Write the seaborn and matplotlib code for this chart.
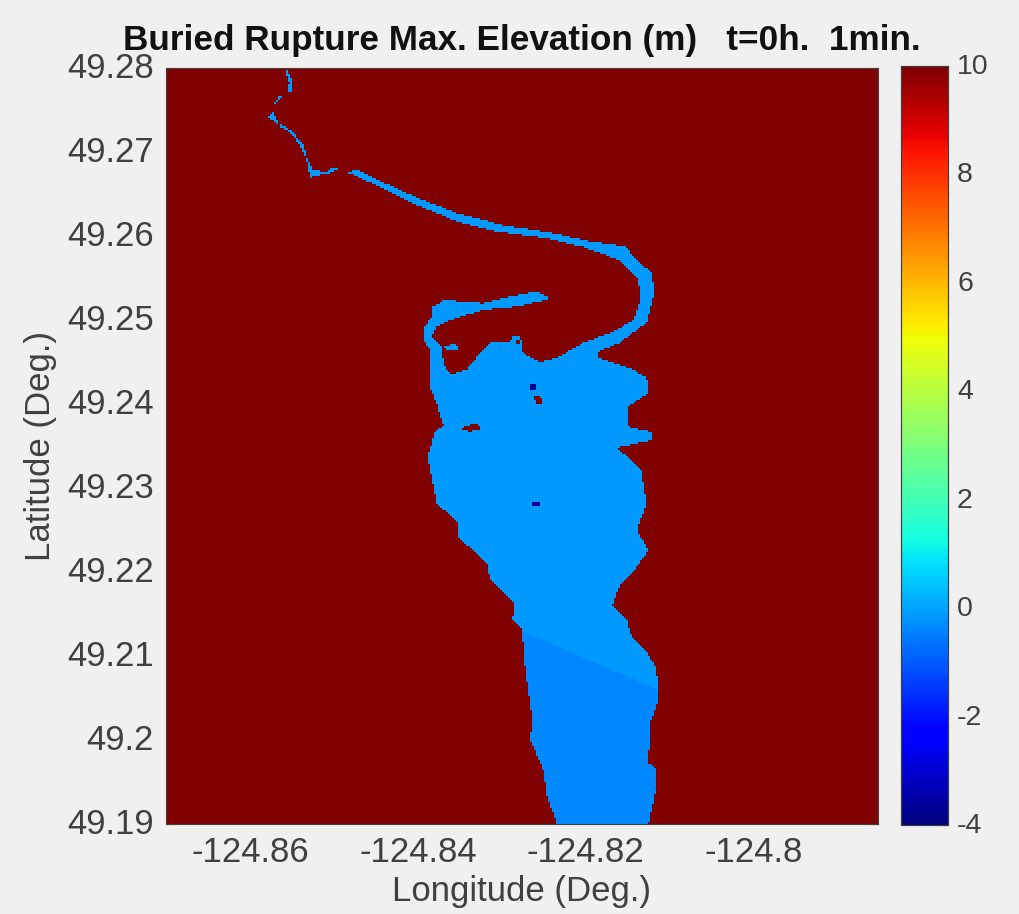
import numpy as np
import matplotlib
matplotlib.use("Agg")
import matplotlib.pyplot as plt
from matplotlib.path import Path
from matplotlib.transforms import ScaledTranslation
import seaborn as sns

# map window (deg)
lon_min, lon_max = -124.8701, -124.7851
lat_min, lat_max = 49.19, 49.28
n_lon, n_lat = 356, 378

# elevation levels
land_level = 10.0
north_level = -0.15
south_level = -0.35
deep_level = -3.8

# inlet shoreline, main basin plus long arm
inlet_lon = [-124.8242, -124.8258, -124.8290, -124.8322, -124.8353, -124.8366, -124.8383, -124.8384, -124.8392,
             -124.8394, -124.8386, -124.8387, -124.8386, -124.8378, -124.8370, -124.8380, -124.8389, -124.8383,
             -124.8378, -124.8353, -124.8353, -124.8318, -124.8314, -124.8286, -124.8287, -124.8276, -124.8272,
             -124.8264, -124.8266, -124.8251, -124.8246, -124.8234, -124.8125, -124.8117, -124.8117, -124.8125,
             -124.8123, -124.8114, -124.8115, -124.8127, -124.8145, -124.8151, -124.8168, -124.8159, -124.8141,
             -124.8125, -124.8139, -124.8127, -124.8134, -124.8162, -124.8121, -124.8121, -124.8150, -124.8150,
             -124.8125, -124.8127, -124.8143, -124.8186, -124.8186, -124.8159, -124.8127, -124.8118, -124.8121,
             -124.8143, -124.8151, -124.8161, -124.8192, -124.8242, -124.8299, -124.8353, -124.8402, -124.8442,
             -124.8473, -124.8485, -124.8442, -124.8402, -124.8353, -124.8305, -124.8250, -124.8203, -124.8162,
             -124.8137, -124.8135, -124.8143, -124.8167, -124.8203, -124.8219, -124.8234, -124.8255, -124.8275,
             -124.8278, -124.8286, -124.8290, -124.8314, -124.8330, -124.8342, -124.8362, -124.8370, -124.8371,
             -124.8384, -124.8378, -124.8362, -124.8322, -124.8282, -124.8255]
inlet_lat = [49.2526, 49.2534, 49.2528, 49.2520, 49.2522, 49.2525, 49.2516, 49.2504, 49.2492,
             49.2477, 49.2465, 49.2441, 49.2421, 49.2401, 49.2375, 49.2366, 49.2337, 49.2310,
             49.2282, 49.2259, 49.2242, 49.2211, 49.2191, 49.2163, 49.2143, 49.2131, 49.2084,
             49.2028, 49.2000, 49.1965, 49.1933, 49.1899, 49.1899, 49.1937, 49.1967, 49.1973,
             49.2020, 49.2044, 49.2084, 49.2104, 49.2122, 49.2143, 49.2161, 49.2185, 49.2203,
             49.2226, 49.2250, 49.2282, 49.2321, 49.2348, 49.2357, 49.2367, 49.2373, 49.2397,
             49.2413, 49.2431, 49.2441, 49.2455, 49.2462, 49.2473, 49.2497, 49.2532, 49.2556,
             49.2575, 49.2587, 49.2589, 49.2593, 49.2604, 49.2613, 49.2627, 49.2646, 49.2664,
             49.2679, 49.2676, 49.2657, 49.2637, 49.2617, 49.2605, 49.2598, 49.2587, 49.2572,
             49.2548, 49.2524, 49.2500, 49.2486, 49.2473, 49.2464, 49.2455, 49.2450, 49.2461,
             49.2482, 49.2482, 49.2474, 49.2473, 49.2456, 49.2441, 49.2435, 49.2449, 49.2468,
             49.2480, 49.2492, 49.2500, 49.2512, 49.2516, 49.2522]

# narrow creek at the head of the inlet
creek_lon = [-124.8573, -124.8579, -124.8571, -124.8561, -124.8550, -124.8537, -124.8532, -124.8526, -124.8511,
             -124.8501, -124.8495, -124.8505, -124.8529, -124.8533, -124.8541, -124.8553, -124.8565]
creek_lat = [49.2748, 49.2742, 49.2735, 49.2732, 49.2724, 49.2708, 49.2691, 49.2679, 49.2676,
             49.2682, 49.2680, 49.2675, 49.2670, 49.2691, 49.2708, 49.2724, 49.2730]
sliver_lon = [-124.8557, -124.8552, -124.8550, -124.8552, -124.8555, -124.8554, -124.8557]
sliver_lat = [49.2798, 49.2788, 49.2780, 49.2771, 49.2771, 49.2782, 49.2792]
spit_lon = [-124.8561, -124.8571, -124.8573, -124.8565]
spit_lat = [49.2767, 49.2758, 49.2758, 49.2767]
pond_lon = [-124.8368, -124.8360, -124.8352, -124.8352, -124.8366]
pond_lat = [49.2468, 49.2471, 49.2470, 49.2465, 49.2464]

# islands inside the basin
island_a_lon = [-124.8349, -124.8339, -124.8328, -124.8326, -124.8339]
island_a_lat = [49.2371, 49.2375, 49.2377, 49.2370, 49.2367]
island_b_lon = [-124.8262, -124.8255, -124.8251, -124.8255, -124.8260]
island_b_lat = [49.2409, 49.2410, 49.2403, 49.2399, 49.2402]
island_c_lon = [-124.8284, -124.8278, -124.8278, -124.8284]
island_c_lat = [49.2477, 49.2477, 49.2471, 49.2471]

# deep spots
deep_a_lon = [-124.8266, -124.8259, -124.8259, -124.8266]
deep_a_lat = [49.2424, 49.2424, 49.2416, 49.2416]
deep_b_lon = [-124.8265, -124.8254, -124.8254, -124.8265]
deep_b_lat = [49.2284, 49.2284, 49.2279, 49.2279]

# boundary of the darker southern water
shift_lon = [-124.8278, -124.8114]
shift_lat = [49.2131, 49.2060]

lon_ticks = [-124.86, -124.84, -124.82, -124.80]
lon_labels = ["-124.86", "-124.84", "-124.82", "-124.8"]
lat_ticks = [49.28, 49.27, 49.26, 49.25, 49.24, 49.23, 49.22, 49.21, 49.20, 49.19]
lat_labels = ["49.28", "49.27", "49.26", "49.25", "49.24", "49.23", "49.22", "49.21", "49.2", "49.19"]
cbar_ticks = [-4, -2, 0, 2, 4, 6, 8, 10]
cbar_labels = ["-4", "-2", "0", "2", "4", "6", "8", "10"]


def inside(lon_grid, lat_grid, lons, lats):
    pts = np.column_stack([lon_grid.ravel(), lat_grid.ravel()])
    return Path(np.column_stack([lons, lats])).contains_points(pts).reshape(lon_grid.shape)


def build_grid():
    dlon = (lon_max - lon_min) / n_lon
    dlat = (lat_max - lat_min) / n_lat
    lons = lon_min + (np.arange(n_lon) + 0.5) * dlon
    lats = lat_max - (np.arange(n_lat) + 0.5) * dlat
    lon_grid, lat_grid = np.meshgrid(lons, lats)

    water = inside(lon_grid, lat_grid, inlet_lon, inlet_lat)
    for x, y in [(creek_lon, creek_lat), (sliver_lon, sliver_lat), (spit_lon, spit_lat), (pond_lon, pond_lat)]:
        water |= inside(lon_grid, lat_grid, x, y)
    for x, y in [(island_a_lon, island_a_lat), (island_b_lon, island_b_lat), (island_c_lon, island_c_lat)]:
        water &= ~inside(lon_grid, lat_grid, x, y)

    slope = (shift_lat[1] - shift_lat[0]) / (shift_lon[1] - shift_lon[0])
    south = lat_grid < shift_lat[0] + slope * (lon_grid - shift_lon[0])

    grid = np.full(lon_grid.shape, land_level)
    grid[water] = north_level
    grid[water & south] = south_level
    for x, y in [(deep_a_lon, deep_a_lat), (deep_b_lon, deep_b_lat)]:
        grid[inside(lon_grid, lat_grid, x, y)] = deep_level
    return grid


sns.set_theme(style="white")
plt.rcParams["font.family"] = ["Liberation Sans", "DejaVu Sans"]
plt.rcParams["axes.unicode_minus"] = False

W, H = 1020, 914
fig = plt.figure(figsize=(W / 100, H / 100), dpi=100, facecolor="#f0f0f0")
ax = fig.add_axes([166 / W, 1 - 824 / H, (878 - 166) / W, (824 - 68) / H])
cax = fig.add_axes([901 / W, 1 - 825 / H, (948 - 901) / W, (825 - 66) / H])

sns.heatmap(build_grid(), ax=ax, cbar_ax=cax, cmap="jet", vmin=-4, vmax=10,
            xticklabels=False, yticklabels=False, square=False)

# heatmap axes run in cell numbers, so map degrees onto them
ax.set_xticks([(v - lon_min) / (lon_max - lon_min) * n_lon for v in lon_ticks])
ax.set_xticklabels(lon_labels)
ax.set_yticks([(lat_max - v) / (lat_max - lat_min) * n_lat for v in lat_ticks])
ax.set_yticklabels(lat_labels, rotation=0)
ax.tick_params(axis="both", direction="in", length=6, width=0.8, color="#303030", labelcolor="#404040",
               labelsize=25, top=True, right=True, bottom=True, left=True, pad=9)
for spine in ax.spines.values():
    spine.set_visible(True)
    spine.set_color("#404040")
    spine.set_linewidth(0.8)

# labels sit a little above their ticks
nudge = ScaledTranslation(0, 3 / 100, fig.dpi_scale_trans)
for label in ax.get_yticklabels():
    label.set_transform(label.get_transform() + nudge)

ax.set_xlabel("Longitude (Deg.)", fontsize=25, color="#404040", labelpad=4)
ax.set_ylabel("Latitude (Deg.)", fontsize=25, color="#404040", labelpad=7)
ax.set_title("Buried Rupture Max. Elevation (m)   t=0h.  1min.", fontsize=25.3, fontweight="bold",
             color="#111111", pad=13)

cax.set_yticks(cbar_ticks)
cax.set_yticklabels(cbar_labels)
cax.tick_params(axis="y", direction="in", length=9, width=0.8, color="#303030", labelcolor="#404040",
                labelsize=20.5, right=True, pad=6.5)
for spine in cax.spines.values():
    spine.set_visible(True)
    spine.set_color("#404040")
    spine.set_linewidth(0.8)
nudge_c = ScaledTranslation(0, 2 / 100, fig.dpi_scale_trans)
for label in cax.get_yticklabels():
    label.set_transform(label.get_transform() + nudge_c)

fig.savefig("out.png", dpi=100, facecolor=fig.get_facecolor())
